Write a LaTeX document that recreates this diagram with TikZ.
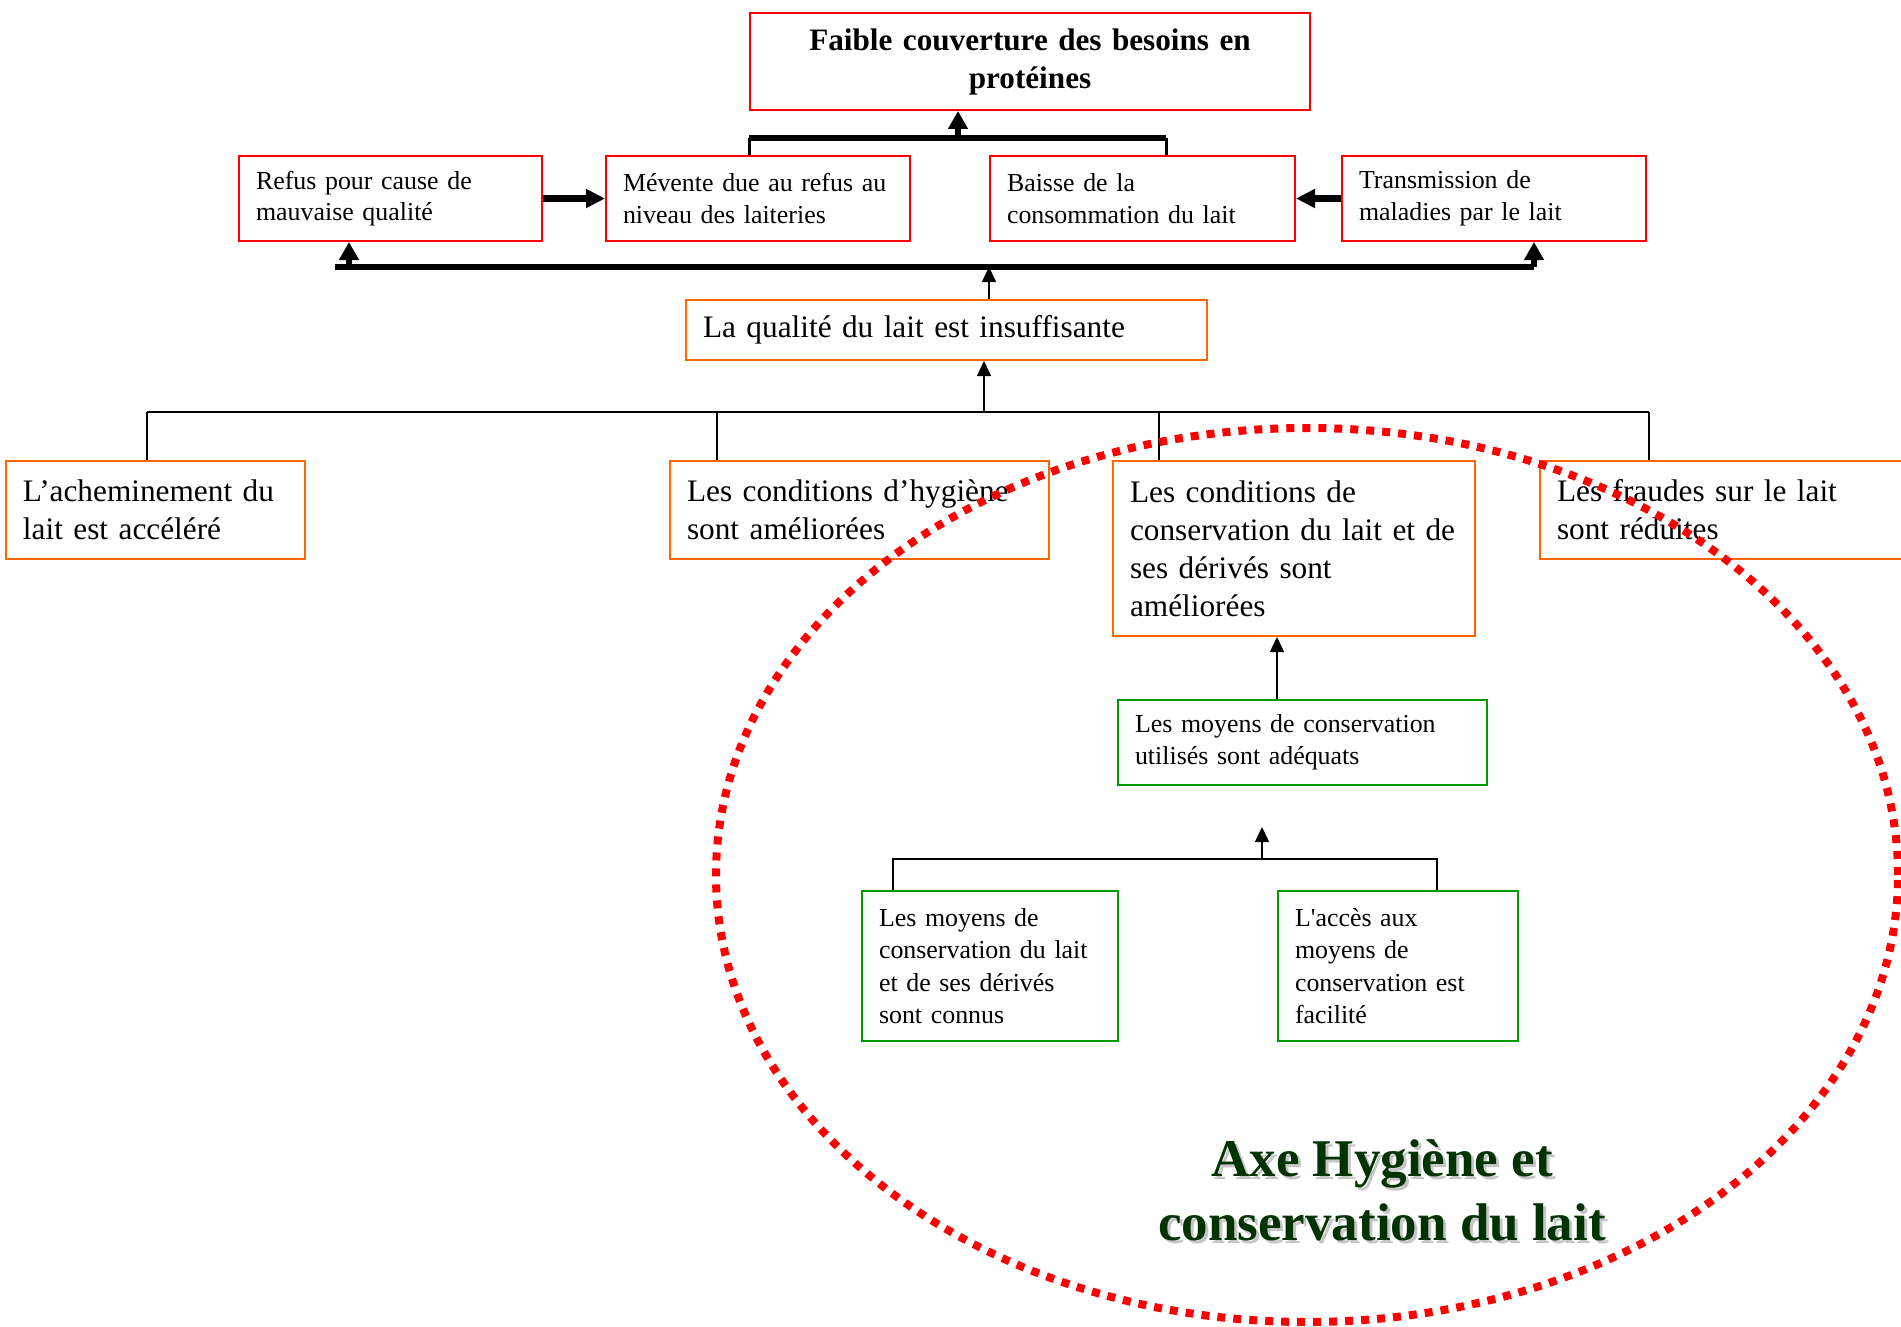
\documentclass[tikz,border=0pt]{standalone}
\usepackage{fontspec}
\setmainfont{Liberation Serif}
\usetikzlibrary{arrows.meta}

\definecolor{boxred}{RGB}{255,0,0}
\definecolor{boxorange}{RGB}{255,102,0}
\definecolor{boxgreen}{RGB}{0,153,0}
\definecolor{axegreen}{RGB}{0,51,0}

\begin{document}
\begin{tikzpicture}[x=1pt,y=-1pt,
  box/.style={draw,line width=2pt,anchor=north west,inner xsep=17pt,inner ysep=0pt,align=left},
  redbox/.style={box,draw=boxred,font=\fontsize{25.9}{31.7}\selectfont},
  orangebox/.style={box,draw=boxorange,font=\fontsize{31.3}{38}\selectfont},
  greenbox/.style={box,draw=boxgreen,font=\fontsize{25.9}{32.4}\selectfont},
  fat/.style={line width=6pt},
  link/.style={line width=1.6pt},
  bigarrow/.style={line width=5.5pt,-{Triangle[length=18pt,width=19pt]}},
  widearrow/.style={line width=7pt,-{Triangle[length=19pt,width=18pt]}},
  linkarrow/.style={line width=1.5pt,-{Triangle[length=15pt,width=14pt]}}]
\path[use as bounding box] (0,0) rectangle (1901,1327);
\clip (0,0) rectangle (1901,1327);

\node[redbox,align=center,font=\bfseries\fontsize{31.2}{38}\selectfont,minimum width=560pt,minimum height=97pt,text width=526pt] (besoins) at (749,12) {Faible couverture des besoins en\\protéines};
\node[redbox,minimum width=303pt,minimum height=85pt,text width=269pt] (refus) at (238,155) {Refus pour cause de\\mauvaise qualité};
\node[redbox,minimum width=304pt,minimum height=85pt,text width=270pt] (mevente) at (605,155) {Mévente due au refus au\\niveau des laiteries};
\node[redbox,minimum width=305pt,minimum height=85pt,text width=271pt] (baisse) at (989,155) {Baisse de la\\consommation du lait};
\node[redbox,minimum width=304pt,minimum height=85pt,text width=270pt] (transm) at (1341,155) {Transmission de\\maladies par le lait};

\node[orangebox,minimum width=521pt,minimum height=60pt,text width=487pt] (qualite) at (685,299) {La qualité du lait est insuffisante};

\node[orangebox,minimum width=299pt,minimum height=98pt,text width=265pt] (achem) at (5,460) {L’acheminement du\\lait est accéléré};
\node[orangebox,minimum width=379pt,minimum height=98pt,text width=345pt] (hygiene) at (669,460) {Les conditions d’hygiène\\sont améliorées};
\node[orangebox,minimum width=362pt,minimum height=175pt,text width=328pt] (conserv) at (1112,460) {Les conditions de\\conservation du lait et de\\ses dérivés sont\\améliorées};
\node[orangebox,minimum width=400pt,minimum height=98pt,text width=366pt] (fraudes) at (1539,460) {Les fraudes sur le lait\\sont réduites};

\node[greenbox,minimum width=369pt,minimum height=85pt,text width=335pt] (moyens) at (1117,699) {Les moyens de conservation\\utilisés sont adéquats};
\node[greenbox,minimum width=256pt,minimum height=150pt,text width=222pt] (connus) at (861,890) {Les moyens de\\conservation du lait\\et de ses dérivés\\sont connus};
\node[greenbox,minimum width=240pt,minimum height=150pt,text width=206pt] (acces) at (1277,890) {L\textquotesingle accès aux\\moyens de\\conservation est\\facilité};

\node[gray!45,align=center,font=\bfseries\fontsize{53}{64}\selectfont] (axeshadow) at (1385,1193) {Axe Hygiène et\\conservation du lait};
\node[axegreen,align=center,font=\bfseries\fontsize{53}{64}\selectfont] (axe) at (1382,1190) {Axe Hygiène et\\conservation du lait};

\coordinate (topL) at (749,138);
\coordinate (topR) at (1166,138);
\coordinate (topM) at (958,138);
\draw[line width=3pt] (mevente.north -| topL) -- (topL);
\draw[line width=3pt] (topR) -- (topR |- baisse.north);
\draw[fat] (topL) -- (topR);
\draw[bigarrow] (topM) -- (topM |- besoins.south);

\coordinate (midL) at (335,267);
\coordinate (midR) at (1534,267);
\coordinate (midA) at (349,267);
\coordinate (midQ) at (989,267);
\draw[fat] (midL) -- (midR);
\draw[bigarrow] (midA) -- (midA |- refus.south);
\draw[bigarrow] (midR) -- (midR |- transm.south);
\draw[linkarrow] (midQ |- qualite.north) -- (midQ);
\draw[widearrow] (refus.east) -- (mevente.west);
\draw[widearrow] (transm.west) -- (baisse.east);

\coordinate (lowL) at (147,412);
\coordinate (lowB) at (717,412);
\coordinate (lowC) at (1159,412);
\coordinate (lowR) at (1649,412);
\coordinate (lowQ) at (984,412);
\draw[line width=2pt] (lowL) -- (lowR);
\draw[link] (lowL) -- (lowL |- achem.north);
\draw[link] (lowB) -- (lowB |- hygiene.north);
\draw[link] (lowC) -- (lowC |- conserv.north);
\draw[link] (lowR) -- (lowR |- fraudes.north);
\draw[linkarrow] (lowQ) -- (lowQ |- qualite.south);

\coordinate (cupX) at (1277,0);
\draw[linkarrow] (cupX |- moyens.north) -- (cupX |- conserv.south);

\coordinate (grL) at (893,859);
\coordinate (grR) at (1437,859);
\coordinate (grM) at (1262,859);
\coordinate (grTip) at (1262,827);
\draw[link] (grL |- connus.north) -- (grL) -- (grR) -- (grR |- acces.north);
\draw[linkarrow] (grM) -- (grTip);

\draw[boxred,line width=8pt,dash pattern=on 8pt off 8pt] (1307,875) ellipse [x radius=591pt,y radius=447pt];
\end{tikzpicture}
\end{document}
